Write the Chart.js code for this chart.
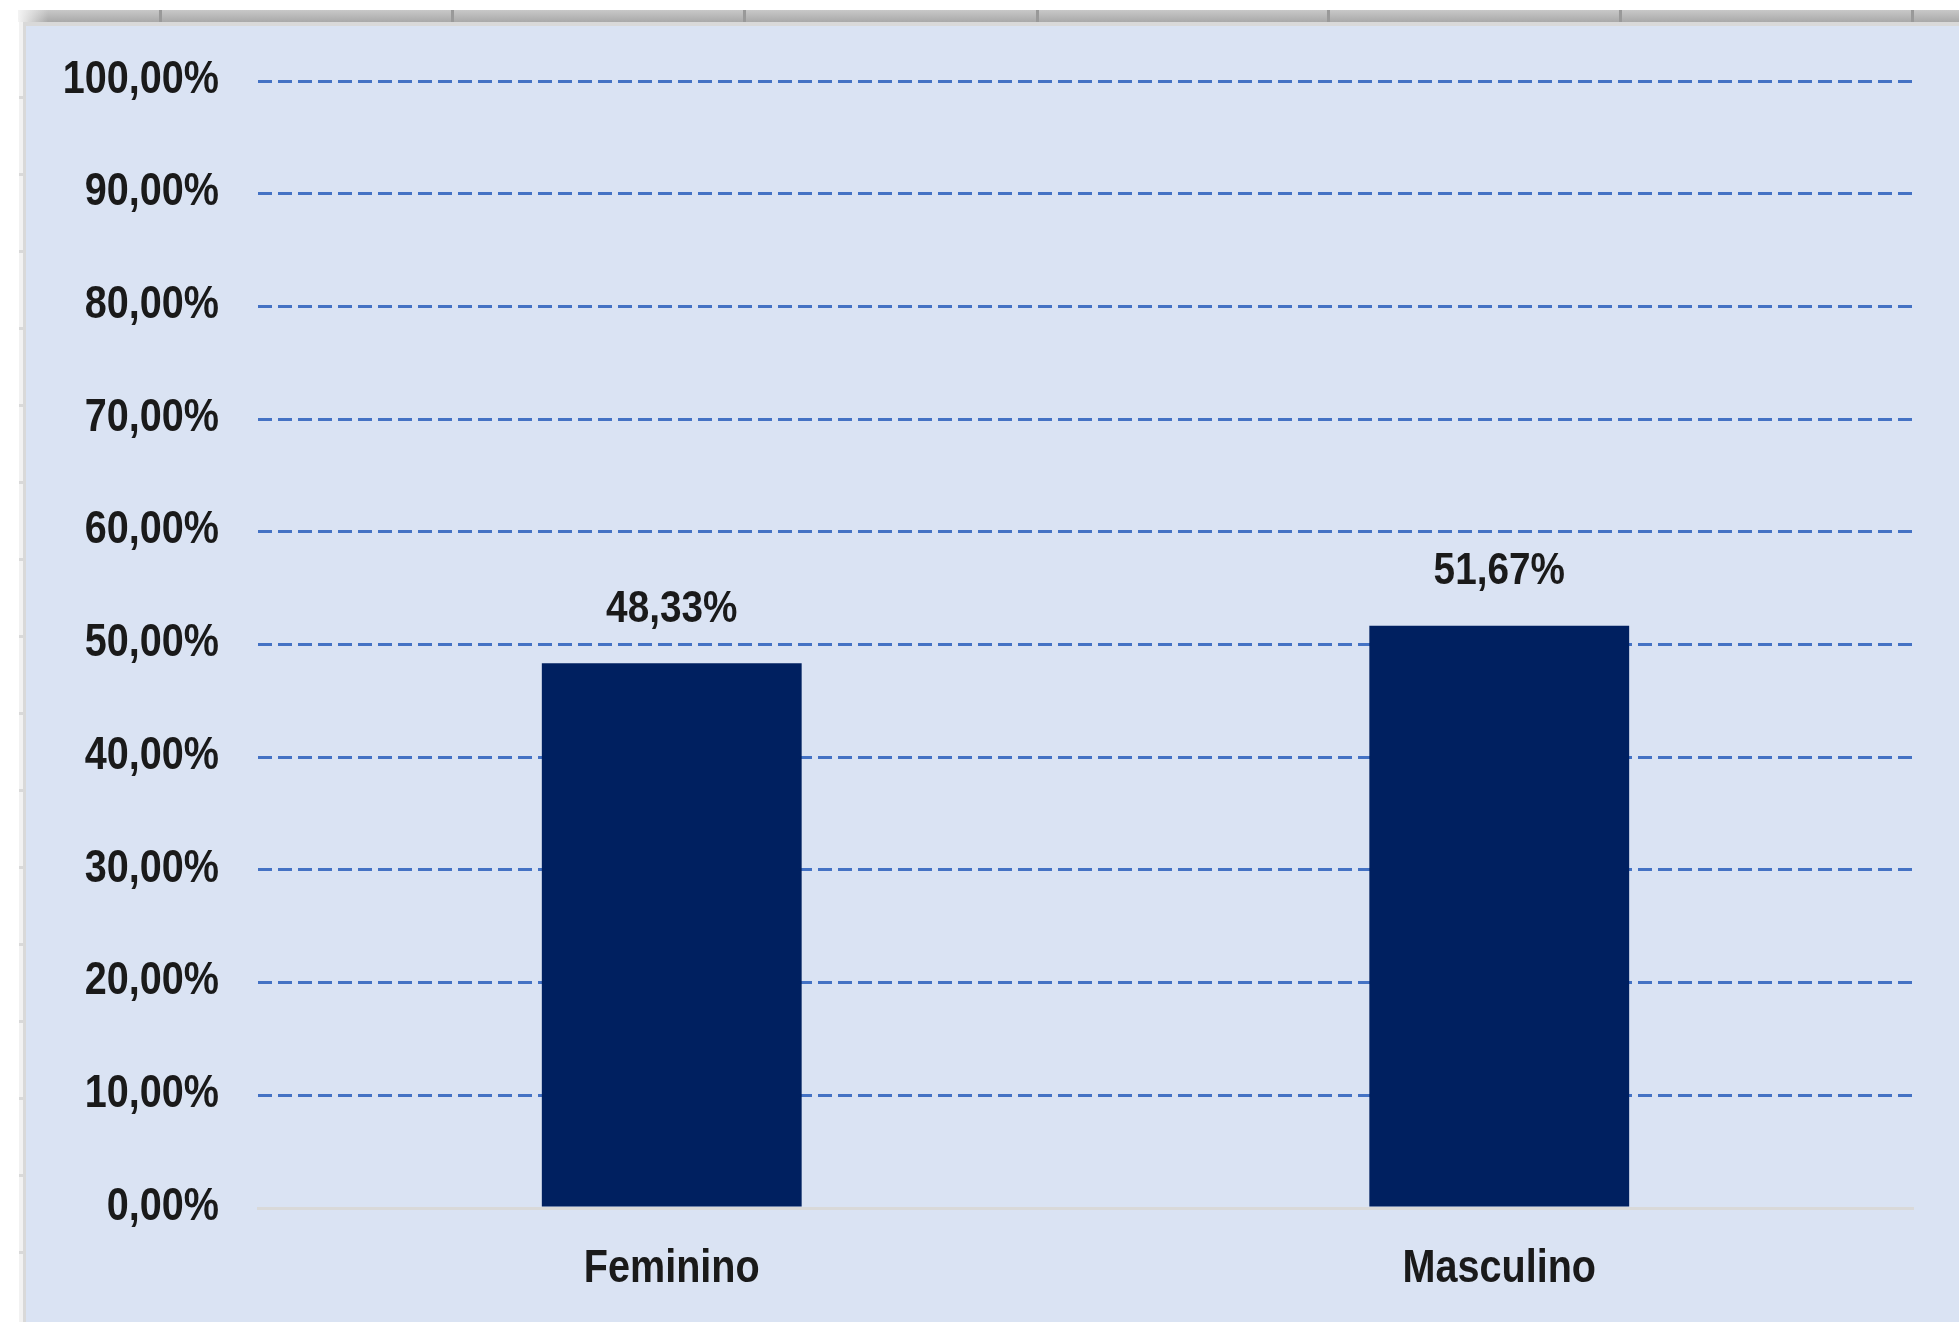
<!DOCTYPE html>
<html>
<head>
    <meta charset="utf-8">
    <script src="https://cdn.jsdelivr.net/npm/chart.js@4.4.1/dist/chart.umd.min.js"></script>
    <style>
        body {
            margin: 0;
            width: 1959px;
            height: 1322px;
            overflow: hidden;
            background: #fff;
            position: relative;
        }
        /* spreadsheet frame round the chart */
        #colBar {
            position: absolute;
            left: 18px; top: 10px;
            width: 1941px; height: 12px;
            background: linear-gradient(#c8c8c8, #a9a9a9);
        }
        #colBar .fade {
            position: absolute; left: 0; top: 0; width: 30px; height: 12px;
            background: linear-gradient(to right, #f4f4f4, rgba(200,200,200,0));
        }
        #colBar .div {
            position: absolute; top: 0; width: 3px; height: 12px; background: #999;
        }
        #topEdge {
            position: absolute; left: 20px; top: 22px; width: 1939px; height: 4px; background: #d9d9d9;
        }
        #leftEdge {
            position: absolute; left: 19px; top: 22px; width: 4px; height: 1300px;
            background: repeating-linear-gradient(#f2f2f2 0px, #f2f2f2 74px, #d9d9d9 74px, #d9d9d9 77px);
        }
        #leftBorder {
            position: absolute; left: 23px; top: 22px; width: 3px; height: 1300px; background: #d9d9d9;
        }
        #chartBox {
            position: absolute;
            left: 26px; top: 26px;
            width: 1933px; height: 1296px;
            background: #dae3f3;
        }
    </style>
</head>
<body>
    <div id="colBar"><div class="fade"></div></div>
    <div id="topEdge"></div>
    <div id="leftEdge"></div>
    <div id="leftBorder"></div>
    <div id="chartBox"><canvas id="chart"></canvas></div>
    <script>
        // data
        const categories = ["Feminino", "Masculino"];
        const shares = [48.33, 51.67];
        const yMin = 0;
        const yMax = 100;
        const yStep = 10;

        // column dividers of the sheet header
        const colDividers = [159, 451, 743, 1036, 1327, 1619, 1911];
        const colBar = document.getElementById("colBar");
        colDividers.forEach((x) => {
            const d = document.createElement("div");
            d.className = "div";
            d.style.left = (x - 18) + "px";
            colBar.appendChild(d);
        });

        const FONT = "'Liberation Sans', Arial, sans-serif";
        const SX = 0.86; // narrow look, like Arial Narrow
        const pct = (v) => v.toFixed(2).replace(".", ",") + "%";

        function narrowText(ctx, text, px, py, align) {
            ctx.save();
            ctx.translate(px, py);
            ctx.scale(SX, 1);
            ctx.textAlign = align;
            ctx.fillText(text, 0, 0);
            ctx.restore();
        }

        // value labels above the bars
        const barLabels = {
            id: "barLabels",
            afterDatasetsDraw(chart) {
                const ctx = chart.ctx;
                const meta = chart.getDatasetMeta(0);
                ctx.save();
                ctx.font = "bold 45px " + FONT;
                ctx.fillStyle = "#1a1a1a";
                ctx.textBaseline = "middle";
                meta.data.forEach((bar, i) => {
                    narrowText(ctx, pct(shares[i]), bar.x, bar.y - 54, "center");
                });
                ctx.restore();
            }
        };

        // axis tick labels drawn narrow at the scales' tick positions
        const axisLabels = {
            id: "axisLabels",
            afterDraw(chart) {
                const ctx = chart.ctx;
                const x = chart.scales.x;
                const y = chart.scales.y;
                ctx.save();
                ctx.fillStyle = "#1a1a1a";
                ctx.textBaseline = "middle";
                ctx.font = "bold 46px " + FONT;
                y.ticks.forEach((t, i) => {
                    narrowText(ctx, pct(t.value), y.right - 39, y.getPixelForTick(i) - 1, "right");
                });
                x.ticks.forEach((t, i) => {
                    narrowText(ctx, categories[i], x.getPixelForTick(i), x.top + 61, "center");
                });
                ctx.restore();
            }
        };

        new Chart(document.getElementById("chart"), {
            type: "bar",
            data: {
                labels: categories,
                datasets: [{
                    data: shares,
                    backgroundColor: "#002060",
                    borderWidth: 0,
                    categoryPercentage: 1,
                    barPercentage: 0.314,
                }]
            },
            options: {
                responsive: true,
                maintainAspectRatio: false,
                animation: false,
                layout: { padding: { left: 0, right: 46, top: 55, bottom: 0 } },
                scales: {
                    x: {
                        grid: { display: false, drawTicks: false },
                        border: { display: true, color: "#d9d9d9", width: 3 },
                        ticks: { display: false },
                        afterFit(s) { s.height = 114; },
                    },
                    y: {
                        min: yMin,
                        max: yMax,
                        grid: {
                            drawTicks: false,
                            lineWidth: 3,
                            color: (c) => (c.tick && c.tick.value === 0) ? "rgba(0,0,0,0)" : "#4472c4",
                        },
                        border: { display: false, dash: [14, 6] },
                        ticks: { display: false, stepSize: yStep },
                        afterFit(s) { s.width = 232; },
                    }
                },
                plugins: {
                    legend: { display: false },
                    tooltip: { enabled: false },
                    title: { display: false },
                }
            },
            plugins: [barLabels, axisLabels]
        });
    </script>
</body>
</html>
